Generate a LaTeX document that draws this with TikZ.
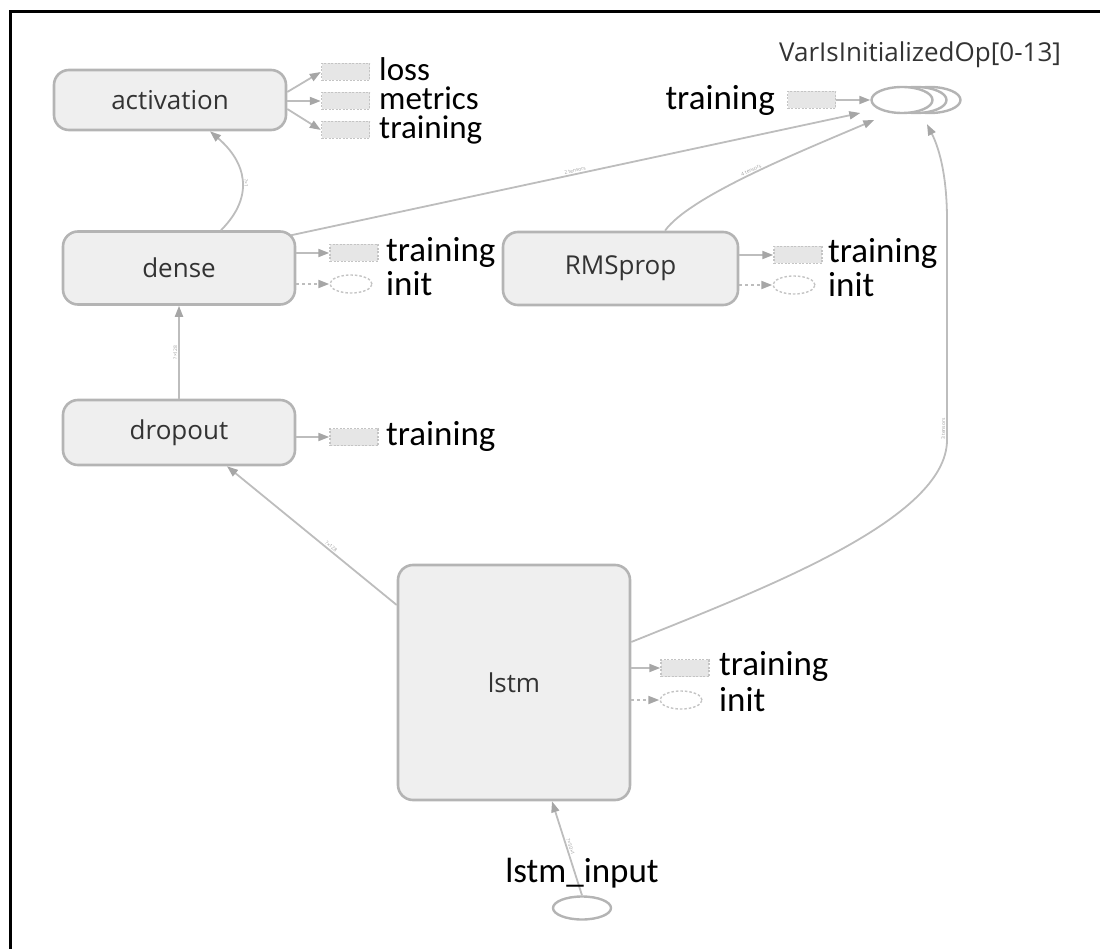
\documentclass[tikz,border=0pt]{standalone}
\usepackage{fontspec}
\setmainfont{Carlito}
\newfontfamily\nodefont{Open Sans}
\usetikzlibrary{arrows.meta,shapes.geometric}

\definecolor{boxfill}{HTML}{EFEFEF}
\definecolor{boxline}{HTML}{B4B4B4}
\definecolor{edgecol}{HTML}{BDBDBD}
\definecolor{tipcol}{HTML}{A6A6A6}
\definecolor{auxfill}{HTML}{E6E6E6}
\definecolor{auxline}{HTML}{C4C4C4}

\tikzset{
  opbox/.style={draw=boxline, fill=boxfill, line width=2.6pt, rounded corners=15pt,
    inner sep=0pt, text=black!80, font=\nodefont\fontsize{26}{30}\selectfont},
  flow/.style={draw=edgecol, line width=1.8pt,
    -{Triangle[length=11pt,width=8pt,color=tipcol]}},
  ctrlflow/.style={flow, dash pattern=on 3pt off 3pt},
  stackop/.style={draw=auxline, fill=auxfill, line width=1.4pt,
    dash pattern=on 2pt off 1.5pt, minimum width=48pt, minimum height=17pt, inner sep=0pt},
  initop/.style={ellipse, draw=auxline, fill=white, line width=1.4pt,
    dash pattern=on 2.5pt off 2pt, minimum width=42pt, minimum height=18pt, inner sep=0pt},
  varop/.style={ellipse, draw=boxline, fill=white, line width=2.4pt,
    minimum width=61pt, minimum height=26pt, inner sep=0pt},
  lbl/.style={anchor=west, inner sep=0pt, text=black, font=\fontsize{35}{38}\selectfont},
  elbl/.style={sloped, inner sep=1pt, text=gray!75, font=\nodefont\fontsize{5}{6}\selectfont}
}

\begin{document}
\begin{tikzpicture}[x=1pt,y=-1pt]
\useasboundingbox (0,0) rectangle (1100,949);

% frame (top and left rules)
\draw[line width=3pt] (10,949) -- (10,12) -- (1100,12);

% main operation nodes
\node[opbox, minimum width=232pt, minimum height=60pt] (act) at (170,100) {activation};
\node[opbox, minimum width=232pt, minimum height=73pt] (dense) at (179,268) {dense};
\node[opbox, minimum width=232pt, minimum height=65pt] (drop) at (179,432.5) {dropout};
\node[opbox, minimum width=235pt, minimum height=73pt] (rms) at (620.5,268.5) {RMSprop};
\node[opbox, minimum width=232pt, minimum height=235pt] (lstm) at (514,682.5) {lstm};

% variable-initialisation stack
\node[varop] (var3) at (930,100) {};
\node[varop] (var2) at (916,100) {};
\node[varop] (var) at (902,100) {};
\node[inner sep=0pt, text=black!80, font=\nodefont\fontsize{26}{30}\selectfont]
  (varlbl) at (920,55) {VarIsInitializedOp[0-13]};
\node[stackop] (varT) at (811.5,100) {};
\node[lbl, anchor=east] (varTl) at (775,100) {training};
\draw[flow] (varT.east) -- (var.west);

% graph input
\node[ellipse, draw=boxline, fill=white, line width=2.4pt, minimum width=58pt,
  minimum height=23pt, inner sep=0pt] (inp) at (582,908) {};

% data-flow edges
\draw[flow] (drop.north) -- node[elbl, above] {?×128} (dense.south);
\draw[flow] ([xshift=42pt]dense.north) .. controls +(35,-35) and +(35,30) ..
  node[elbl, above, pos=0.45] {?×1} ([xshift=40pt]act.south);
\draw[flow] ([yshift=77.5pt]lstm.west) -- node[elbl, above, pos=0.4] {?×128} ([xshift=48pt]drop.south);
\draw[flow] (inp.north) -- node[elbl, above, pos=0.5] {?×50×1} ([xshift=38pt]lstm.south);
\draw[flow] ([xshift=-5pt,yshift=-5pt]dense.north east) --
  node[elbl, above, pos=0.5] {2 tensors} ([xshift=-10pt,yshift=-13pt]var.west);
\draw[flow] ([xshift=44.5pt]rms.north) .. controls +(25,-35) and +(-70,30) ..
  node[elbl, above, pos=0.5] {4 tensors} ([xshift=4pt,yshift=-20pt]var.west);
\draw[flow] ([yshift=40.5pt]lstm.east) .. controls (760,590) and (947,520) ..
  (947,440) -- node[elbl, above, pos=0.05] {3 tensors} (947,220)
  .. controls (947,165) and (935,140) .. ([xshift=11pt,yshift=-10pt]var2.south);

% auxiliary outputs: activation
\node[stackop] (actL) at (345.5,72) {};
\node[stackop] (actM) at (345.5,101) {};
\node[stackop] (actT) at (345.5,130) {};
\node[lbl, align=left, font=\fontsize{33}{29}\selectfont] (actLbl) at (379,101)
  {loss\\metrics\\training};
\draw[flow] ([yshift=8pt]act.east) -- (actL.west);
\draw[flow] ([yshift=-1pt]act.east) -- (actM.west);
\draw[flow] ([yshift=-9pt]act.east) -- (actT.west);

% auxiliary outputs: dense
\node[stackop] (denseT) at (354,253) {};
\node[initop] (denseI) at (351,284) {};
\node[lbl] (denseTl) at (386,252) {training};
\node[lbl] (denseIl) at (386,284) {init};
\draw[flow] (dense.east |- denseT) -- (denseT.west);
\draw[ctrlflow] (dense.east |- denseI) -- (denseI.west);

% auxiliary outputs: RMSprop
\node[stackop] (rmsT) at (798,255) {};
\node[initop] (rmsI) at (794,285) {};
\node[lbl] (rmsTl) at (828,253) {training};
\node[lbl] (rmsIl) at (828,285) {init};
\draw[flow] (rms.east |- rmsT) -- (rmsT.west);
\draw[ctrlflow] (rms.east |- rmsI) -- (rmsI.west);

% auxiliary outputs: dropout
\node[stackop] (dropT) at (354,437) {};
\node[lbl] (dropTl) at (386,436) {training};
\draw[flow] (drop.east |- dropT) -- (dropT.west);

% auxiliary outputs: lstm
\node[stackop] (lstmT) at (685,668) {};
\node[initop] (lstmI) at (681,700) {};
\node[lbl] (lstmTl) at (719,666) {training};
\node[lbl] (lstmIl) at (719,700) {init};
\draw[flow] (lstm.east |- lstmT) -- (lstmT.west);
\draw[ctrlflow] (lstm.east |- lstmI) -- (lstmI.west);

% input label
\node[inner sep=0pt, font=\fontsize{35}{38}\selectfont] (inplbl) at (582,873) {lstm\_input};
\end{tikzpicture}
\end{document}
